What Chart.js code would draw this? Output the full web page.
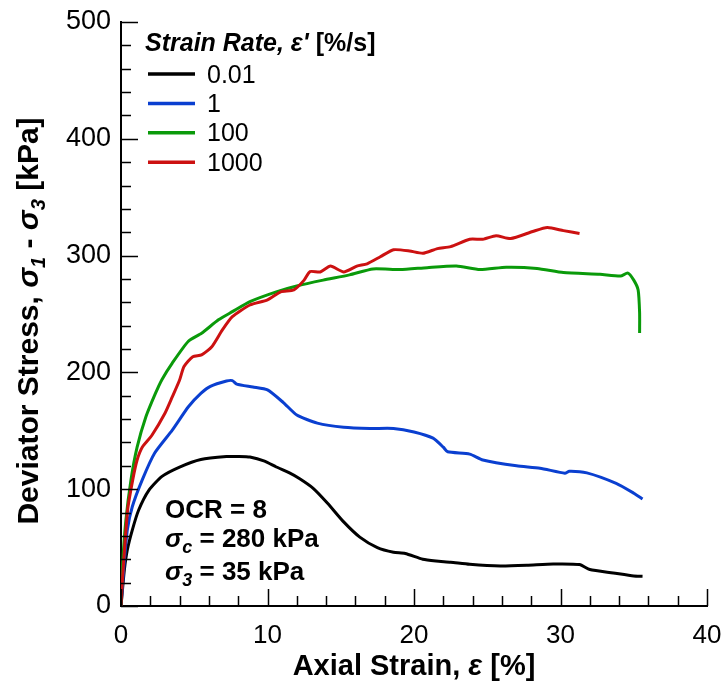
<!DOCTYPE html>
<html>
<head>
<meta charset="utf-8">
<script src="https://cdn.jsdelivr.net/npm/chart.js@4/dist/chart.umd.min.js"></script>
<style>
  html, body { margin: 0; padding: 0; background: #fff; }
  #wrap { width: 725px; height: 697px; }
</style>
</head>
<body>
<div id="wrap"><canvas id="chart" width="725" height="697"></canvas></div>
<script>
// strain rate labels [%/s]
const rates = ["0.01", "1", "100", "1000"];
const colors = ["#000000", "#0a3fd0", "#0a9a0a", "#cc1111"];

// axial strain [%] / deviator stress [kPa]
const strain001 = [0, 0.23, 0.43, 0.77, 1.2, 1.9, 2.8, 4.0, 5.45, 7.2, 8.0, 8.8, 9.8, 10.6, 11.5, 12.2, 13.1, 14.1, 15.2, 16.3, 17.5, 18.6, 19.4, 20.6, 21.5, 22.5, 23.8, 25.9, 27.7, 29.5, 31.3, 32.0, 33.6, 35.0, 35.6];
const stress001 = [0, 31, 48, 65, 82, 99, 111, 119, 125.5, 128, 128, 127.5, 124, 119, 114, 109, 101, 88, 72, 59, 50, 46, 45, 40, 38.5, 37.5, 35.7, 34.3, 34.9, 36, 35.5, 31.2, 28.3, 25.7, 25.5];

const strain1 = [0, 0.2, 0.43, 0.77, 1.45, 2.3, 3.5, 4.6, 5.45, 6.1, 7.2, 7.6, 7.9, 9.0, 10.0, 11.1, 12.0, 13.4, 15.2, 17.0, 18.6, 20.0, 21.3, 22.0, 22.3, 23.8, 24.7, 27.0, 28.6, 30.3, 30.6, 31.8, 33.8, 35.0, 35.6];
const stress1 = [0, 34, 65, 85, 108, 131, 150.6, 170.6, 182, 188, 192.6, 193, 190, 187.5, 185, 174, 163.5, 156.6, 153, 152, 152, 149, 143.7, 136, 132, 130, 125, 120, 118, 113.7, 115.4, 114, 105, 96.6, 91.7];

const strain100 = [0, 0.1, 0.33, 0.68, 1.1, 1.7, 2.35, 2.8, 3.5, 4.6, 5.5, 6.65, 7.6, 8.8, 10.6, 12.0, 13.8, 15.6, 17.2, 19.05, 20.9, 22.9, 24.5, 26.3, 28.4, 30.2, 32.7, 34.1, 34.6, 35.0, 35.3, 35.4, 35.4];
const stress100 = [0, 34, 73, 108, 136, 162, 182, 194, 208, 226.7, 233.5, 245, 252, 260.6, 269, 274, 279, 283.5, 288.6, 288, 289.7, 291, 288, 290, 289, 285.5, 284, 282.6, 285, 279, 270.6, 251, 233.7];

const strain1000 = [0, 0.1, 0.45, 0.8, 1.1, 1.45, 2.1, 3.0, 3.5, 4.0, 4.3, 4.9, 5.5, 6.2, 6.9, 7.6, 8.8, 10.0, 10.9, 11.8, 12.5, 12.9, 13.6, 14.3, 15.2, 16.1, 16.8, 17.7, 18.6, 19.7, 20.6, 21.6, 22.5, 23.8, 24.7, 25.6, 26.6, 28.1, 29.1, 30.2, 31.3];
const stress1000 = [0, 23, 82, 108, 125, 136, 146, 165, 179, 193.5, 205, 213.5, 215, 222, 236, 247.7, 257.7, 262, 269, 270.6, 279, 286.3, 286, 291, 286, 291, 293, 299, 305, 304, 302, 306, 307.7, 314, 314, 317, 314.6, 320.6, 324, 321.4, 319];

const xTicks = [0, 10, 20, 30, 40];
const yTicks = [0, 100, 200, 300, 400, 500];
const xMinorStep = 2;
const yMinorStep = 20;

const seriesX = [strain001, strain1, strain100, strain1000];
const seriesY = [stress001, stress1, stress100, stress1000];

const FONT = '"Liberation Sans", Arial, sans-serif';

function toPoints(xs, ys) {
  return xs.map((v, i) => ({ x: v, y: ys[i] }));
}

// draws a line of text made of runs with different fonts / offsets
function drawRich(ctx, x, y, runs, align) {
  let w = 0;
  runs.forEach(r => { ctx.font = r[1]; w += ctx.measureText(r[0]).width; });
  let cx = align === "center" ? x - w / 2 : x;
  runs.forEach(r => {
    ctx.font = r[1];
    ctx.fillText(r[0], cx, y + (r[2] || 0));
    cx += ctx.measureText(r[0]).width;
  });
}

const inwardTicks = {
  id: "inwardTicks",
  afterDraw(chart) {
    const { ctx, chartArea: a } = chart;
    const sx = chart.scales.x, sy = chart.scales.y;
    ctx.save();
    ctx.strokeStyle = "#000";
    ctx.lineWidth = 1.5;
    ctx.beginPath();
    for (let v = sx.min; v <= sx.max; v += xMinorStep) {
      const px = Math.round(sx.getPixelForValue(v)) + 0.5;
      const len = xTicks.includes(v) ? 17 : 10;
      ctx.moveTo(px, a.bottom);
      ctx.lineTo(px, a.bottom - len);
    }
    for (let v = sy.min; v <= sy.max; v += yMinorStep) {
      const py = Math.round(sy.getPixelForValue(v)) + 0.5;
      const len = yTicks.includes(v) ? 17 : 10;
      ctx.moveTo(a.left, py);
      ctx.lineTo(a.left + len, py);
    }
    ctx.stroke();
    ctx.restore();
  }
};

const textLayer = {
  id: "textLayer",
  afterDraw(chart) {
    const { ctx, chartArea: a } = chart;
    ctx.save();
    ctx.fillStyle = "#000";
    ctx.textBaseline = "alphabetic";

    // x axis title
    drawRich(ctx, (a.left + a.right) / 2, 675, [
      ["Axial Strain, ", "bold 29px " + FONT],
      ["\u03b5", "italic bold 29px " + FONT],
      [" [%]", "bold 29px " + FONT]
    ], "center");

    // y axis title
    ctx.save();
    ctx.translate(38, 321);
    ctx.rotate(-Math.PI / 2);
    drawRich(ctx, 0, 0, [
      ["Deviator Stress, ", "bold 30px " + FONT],
      ["\u03c3", "italic bold 30px " + FONT],
      ["1", "italic bold 20px " + FONT, 7],
      [" - ", "bold 30px " + FONT],
      ["\u03c3", "italic bold 30px " + FONT],
      ["3", "italic bold 20px " + FONT, 7],
      [" [kPa]", "bold 30px " + FONT]
    ], "center");
    ctx.restore();

    // legend
    drawRich(ctx, 145, 51, [
      ["Strain Rate, \u03b5'", "italic bold 25px " + FONT],
      [" [%/s]", "bold 25px " + FONT]
    ]);
    rates.forEach((r, i) => {
      const ly = 74 + i * 29.4;
      ctx.strokeStyle = colors[i];
      ctx.lineWidth = 3.5;
      ctx.beginPath();
      ctx.moveTo(148, ly);
      ctx.lineTo(195, ly);
      ctx.stroke();
      ctx.font = "25px " + FONT;
      ctx.fillText(r, 207, ly + 8.5);
    });

    // test conditions
    const B = "bold 26px " + FONT, BI = "italic bold 26px " + FONT, S = "italic bold 18px " + FONT;
    drawRich(ctx, 165, 518, [["OCR = 8", B]]);
    drawRich(ctx, 165, 547, [["\u03c3", BI], ["c", S, 6], [" = 280 kPa", B]]);
    drawRich(ctx, 165, 580, [["\u03c3", BI], ["3", S, 6], [" = 35 kPa", B]]);
    ctx.restore();
  }
};

const ctx = document.getElementById("chart").getContext("2d");
new Chart(ctx, {
  type: "line",
  data: {
    datasets: rates.map((r, i) => ({
      label: r,
      data: toPoints(seriesX[i], seriesY[i]),
      borderColor: colors[i],
      backgroundColor: colors[i],
      borderWidth: 3,
      pointRadius: 0,
      tension: 0.2,
      fill: false,
      order: 3 - i
    }))
  },
  options: {
    responsive: false,
    animation: false,
    devicePixelRatio: 1,
    layout: { padding: { left: 0, top: 22, right: 18, bottom: 0 } },
    plugins: { legend: { display: false }, tooltip: { enabled: false } },
    scales: {
      x: {
        type: "linear",
        min: 0,
        max: 40,
        afterFit: s => { s.height = 91; s.paddingLeft = 0; s.paddingRight = 0; },
        afterBuildTicks: s => { s.ticks = xTicks.map(v => ({ value: v })); },
        grid: { display: true, drawOnChartArea: false, drawTicks: false },
        border: { display: true, color: "#000", width: 2 },
        ticks: { color: "#000", padding: 14, maxRotation: 0, font: { family: FONT, size: 26 } }
      },
      y: {
        type: "linear",
        min: 0,
        max: 500,
        afterFit: s => { s.width = 121; s.paddingTop = 0; s.paddingBottom = 0; },
        afterBuildTicks: s => { s.ticks = yTicks.map(v => ({ value: v })); },
        grid: { display: true, drawOnChartArea: false, drawTicks: false },
        border: { display: true, color: "#000", width: 2 },
        ticks: { color: "#000", padding: 10, font: { family: FONT, size: 27 } }
      }
    }
  },
  plugins: [inwardTicks, textLayer]
});
</script>
</body>
</html>
